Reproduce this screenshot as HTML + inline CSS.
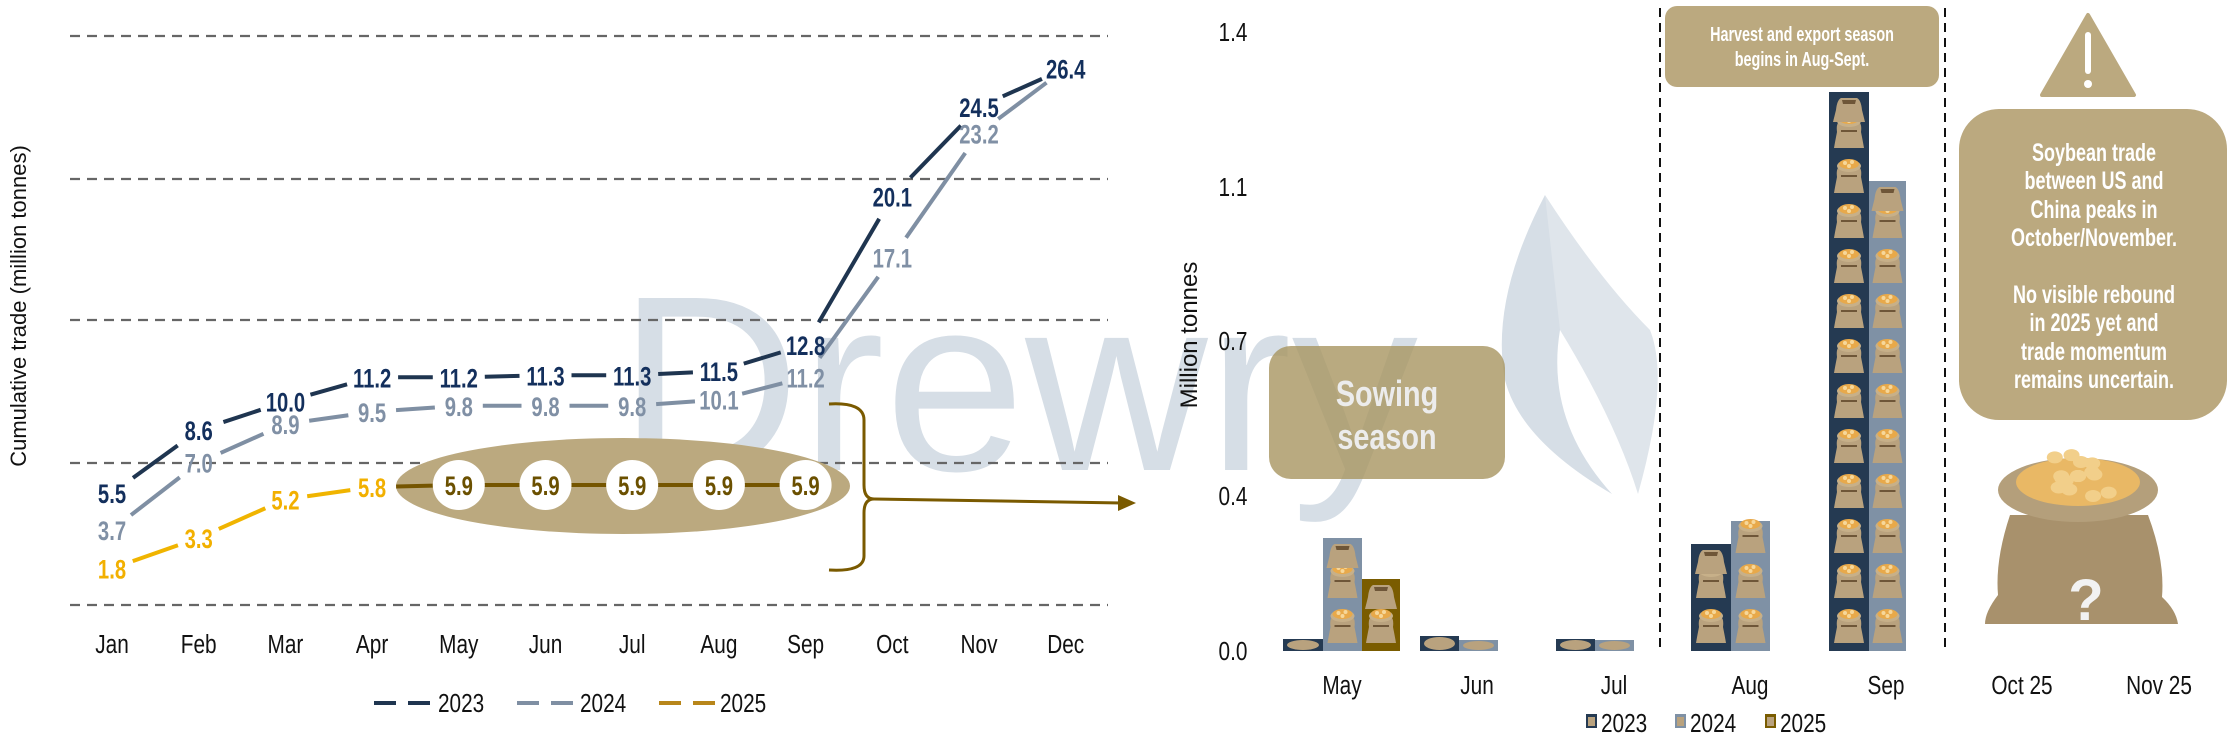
<!DOCTYPE html>
<html><head><meta charset="utf-8"><style>
html,body{margin:0;padding:0;background:#fff;}
svg{display:block;}
.n{font-family:"Liberation Sans",sans-serif;}
</style></head><body>
<svg id="s" width="2234" height="738" viewBox="0 0 2234 738" xmlns="http://www.w3.org/2000/svg">
<defs>
<g id="sackE">
 <path d="M-13,-4 Q-12,-14 -8,-16 L8,-16 Q12,-14 13,-4 Q15,4 16,8 L-16,8 Q-15,4 -13,-4Z" fill="#b9a27e"/>
 <path d="M-7,-14 L7,-14 L6,-10 L-6,-10Z" fill="#6e5638"/>
</g>
<g id="sackF">
 <path d="M-12,-2 Q-13,-10 -10,-12 L10,-12 Q13,-10 12,-2 Q14,8 15,14 L-15,14 Q-14,8 -12,-2Z" fill="#b9a27e"/>
 <ellipse cx="0" cy="-13" rx="12" ry="6" fill="#c7b089"/>
 <ellipse cx="0" cy="-15" rx="10" ry="5" fill="#e8a94a"/>
 <circle cx="-4" cy="-16" r="2" fill="#f6d79a"/><circle cx="3" cy="-17" r="2" fill="#f6d79a"/><circle cx="0" cy="-13" r="2" fill="#f6d79a"/>
 <path d="M-8,-3 L8,-3" stroke="#6e5638" stroke-width="2"/>
</g>
</defs>
<text x="618" y="470" font-family="Liberation Sans,sans-serif" font-size="250" fill="#d6dee6" textLength="800" lengthAdjust="spacingAndGlyphs">Drewry</text>
<path d="M1545,195 Q1490,300 1505,380 Q1520,440 1612,494 Q1545,420 1560,330 Q1570,260 1545,195Z" fill="#d6dee6"/>
<path d="M1545,195 Q1600,280 1650,330 Q1670,380 1638,494 Q1615,420 1560,330Z" fill="#dfe5eb"/>
<g id="left"></g>
<g id="right"></g>
</svg>
<script>
const NS="http://www.w3.org/2000/svg";
function el(p,t,a,txt){const e=document.createElementNS(NS,t);
 if(a.class==='n'&&t==='text'){const x=a.x,y=a.y;a.x=0;a.y=0;a.transform='translate('+x+' '+y+') scale('+(a.sx||0.8)+' 1)';delete a.sx;}
 for(const k in a)e.setAttribute(k,a[k]);if(txt!==undefined)e.textContent=txt;p.appendChild(e);return e;}
const L=document.getElementById('left'),R=document.getElementById('right');
[36,179,320,463,605].forEach(y=>el(L,'line',{x1:70,x2:1108,y1:y,y2:y,stroke:'#666','stroke-width':2.2,'stroke-dasharray':'10,7'}));
el(L,'text',{x:0,y:0,transform:'translate(26,306) rotate(-90)','text-anchor':'middle','font-family':'Liberation Sans,sans-serif','font-size':22,fill:'#111'},'Cumulative trade (million tonnes)');
const M=['Jan','Feb','Mar','Apr','May','Jun','Jul','Aug','Sep','Oct','Nov','Dec'];
const X=i=>112+i*86.7, Y=v=>605-v*20.33;
M.forEach((m,i)=>el(L,'text',{x:X(i),y:653,'text-anchor':'middle',class:'n','font-size':26,fill:'#111'},m));
el(L,'ellipse',{cx:623,cy:486,rx:227,ry:48,fill:'#bba97f'});
const d23=[5.5,8.6,10.0,11.2,11.2,11.3,11.3,11.5,12.8,20.1,24.5,26.4];
const d24=[3.7,7.0,8.9,9.5,9.8,9.8,9.8,10.1,11.2,17.1,23.2,26.4];
const d25=[1.8,3.3,5.2,5.8,5.9,5.9,5.9,5.9,5.9];
function series(d,col,gap,colFn){
 for(let i=0;i<d.length-1;i++){
  const x1=X(i),y1=Y(d[i]),x2=X(i+1),y2=Y(d[i+1]);
  const dx=x2-x1,dy=y2-y1,len=Math.hypot(dx,dy),g=gap(i);
  el(L,'line',{x1:x1+dx*g[0]/len,y1:y1+dy*g[0]/len,x2:x2-dx*g[1]/len,y2:y2-dy*g[1]/len,stroke:colFn?colFn(i):col,'stroke-width':4});
 }
}
series(d23,'#1f3550',i=>[26,26]);
series(d24,'#7f8fa3',i=>[24,24]);
series(d25,'#f0b400',i=>[i>=3?24:22, i>=3?26:22],i=>i>=3?'#755500':'#f0b400');
function labels(d,col,skip){d.forEach((v,i)=>{if(skip&&skip(i))return;el(L,'text',{x:X(i),y:Y(v)+10,'text-anchor':'middle',class:'n','font-size':27,'font-weight':'bold',fill:col,sx:0.75},v.toFixed(1));});}
labels(d23,'#132f5c');
labels(d24,'#8090a5',i=>i==11);
labels(d25,'#f2b000',i=>i>=4);
for(let i=4;i<9;i++){el(L,'ellipse',{cx:X(i),cy:485,rx:26,ry:25,fill:'#fff'});el(L,'text',{x:X(i),y:495,'text-anchor':'middle',class:'n','font-size':27,'font-weight':'bold',fill:'#6b5000',sx:0.75},'5.9');}
el(L,'path',{d:'M829,404 Q864,402 864,420 L864,485 Q864,499 874,499 Q864,499 864,513 L864,556 Q864,572 829,570',fill:'none',stroke:'#7a5a00','stroke-width':3});
el(L,'line',{x1:874,y1:499,x2:1122,y2:503,stroke:'#7a5a00','stroke-width':3});
el(L,'path',{d:'M1136,503 L1118,495 L1118,511Z',fill:'#7a5a00'});
[[374,438,'#1f3550','2023'],[517,580,'#7f8fa3','2024'],[659,720,'#b8861a','2025']].forEach(a=>{
 el(L,'line',{x1:a[0],x2:a[1]-2,y1:703,y2:703,stroke:a[2],'stroke-width':4,'stroke-dasharray':'22,12'});
 el(L,'text',{x:a[1],y:712,class:'n','font-size':26,fill:'#111'},a[3]);});
[[31,'1.4'],[186,'1.1'],[340,'0.7'],[495,'0.4'],[650,'0.0']].forEach(a=>el(R,'text',{x:1233,y:a[0]+10,'text-anchor':'middle',class:'n','font-size':26,fill:'#111'},a[1]));
el(R,'text',{x:0,y:0,transform:'translate(1197,335) rotate(-90)','text-anchor':'middle','font-family':'Liberation Sans,sans-serif','font-size':24,fill:'#111'},'Million tonnes');
[1660,1945].forEach(x=>el(R,'line',{x1:x,x2:x,y1:8,y2:649,stroke:'#111','stroke-width':2,'stroke-dasharray':'9,6'}));
const bars=[[1283,1323,639,'#253a52'],[1323,1362,538,'#7f91a5'],[1362,1400,579,'#7a5c00'],[1420,1459,636,'#253a52'],[1459,1498,640,'#7f91a5'],[1556,1595,639,'#253a52'],[1595,1634,640,'#7f91a5'],[1691,1731,544,'#253a52'],[1731,1770,521,'#7f91a5'],[1829,1869,92,'#253a52'],[1869,1906,181,'#7f91a5']];
bars.forEach(b=>{
 el(R,'rect',{x:b[0],y:b[2],width:b[1]-b[0],height:651-b[2],fill:b[3]});
 const cx=(b[0]+b[1])/2,h=651-b[2];
 if(h<20){el(R,'ellipse',{cx:cx,cy:651-h/2,rx:(b[1]-b[0])/2-4,ry:Math.max(2,h/2-1),fill:'#b9a27e'});return;}
 let y=651-22;
 while(y-20>=b[2]-2){el(R,'use',{href:'#sackF',x:cx,y:y});y-=45;}
 if(b[2]<y+25) el(R,'use',{href:'#sackE',x:cx,y:b[2]+22});
});
el(R,'rect',{x:1269,y:346,width:236,height:133,rx:22,fill:'#a89560','fill-opacity':0.8});
el(R,'text',{x:1387,y:406,'text-anchor':'middle',class:'n','font-size':36,'font-weight':'bold',fill:'#ececec'},'Sowing');
el(R,'text',{x:1387,y:449,'text-anchor':'middle',class:'n','font-size':36,'font-weight':'bold',fill:'#ececec'},'season');
el(R,'rect',{x:1665,y:6,width:274,height:81,rx:12,fill:'#bba97f'});
el(R,'text',{x:1802,y:41,'text-anchor':'middle',class:'n','font-size':20,'font-weight':'bold',fill:'#fff',sx:0.72},'Harvest and export season');
el(R,'text',{x:1802,y:66,'text-anchor':'middle',class:'n','font-size':20,'font-weight':'bold',fill:'#fff',sx:0.72},'begins in Aug-Sept.');
el(R,'path',{d:'M2088,15 L2134,95 L2042,95Z',fill:'#bba97f','stroke':'#bba97f','stroke-width':4,'stroke-linejoin':'round'});
el(R,'rect',{x:2085,y:32,width:6,height:42,rx:3,fill:'#fff'});
el(R,'circle',{cx:2088,cy:84,r:4,fill:'#fff'});
el(R,'rect',{x:1959,y:109,width:268,height:311,rx:40,fill:'#bba97f'});
[['Soybean trade',152],['between US and',180],['China peaks in',209],['October/November.',237],['No visible rebound',294],['in 2025 yet and',322],['trade momentum',351],['remains uncertain.',379]].forEach(a=>el(R,'text',{x:2094,y:a[1]+9,'text-anchor':'middle',class:'n','font-size':25,'font-weight':'bold',fill:'#fff',sx:0.72},a[0]));
el(R,'path',{d:'M2010,515 Q1995,560 1998,595 Q1985,612 1985,624 L2178,624 Q2176,610 2162,597 Q2165,560 2148,515Z',fill:'#a8916c'});
el(R,'ellipse',{cx:2078,cy:490,rx:80,ry:32,fill:'#b49f7b'});
el(R,'ellipse',{cx:2078,cy:482,rx:62,ry:24,fill:'#e9b865'});
for(let i=0;i<18;i++){const a=i*2.4,r=(i%4)*14;el(R,'ellipse',{cx:2078+Math.cos(a)*r*1.2,cy:476+Math.sin(a)*r*0.5,rx:8,ry:6,fill:'#f2cf8a'});}
el(R,'text',{x:2086,y:620,'text-anchor':'middle','font-family':'Liberation Sans,sans-serif','font-size':58,'font-weight':'bold',fill:'#f2f2f2'},'?');
[['May',1342],['Jun',1477],['Jul',1614],['Aug',1750],['Sep',1886],['Oct 25',2022],['Nov 25',2159]].forEach(a=>el(R,'text',{x:a[1],y:694,'text-anchor':'middle',class:'n','font-size':26,fill:'#111'},a[0]));
[[1586,'#253a52','2023'],[1675,'#7f91a5','2024'],[1765,'#7a5c00','2025']].forEach(a=>{
 el(R,'rect',{x:a[0],y:714,width:11,height:14,fill:a[1]});el(R,'rect',{x:a[0]+2,y:717,width:7,height:9,fill:'#b9a27e'});
 el(R,'text',{x:a[0]+15,y:732,class:'n','font-size':26,fill:'#111'},a[2]);});
</script>
</body></html>
